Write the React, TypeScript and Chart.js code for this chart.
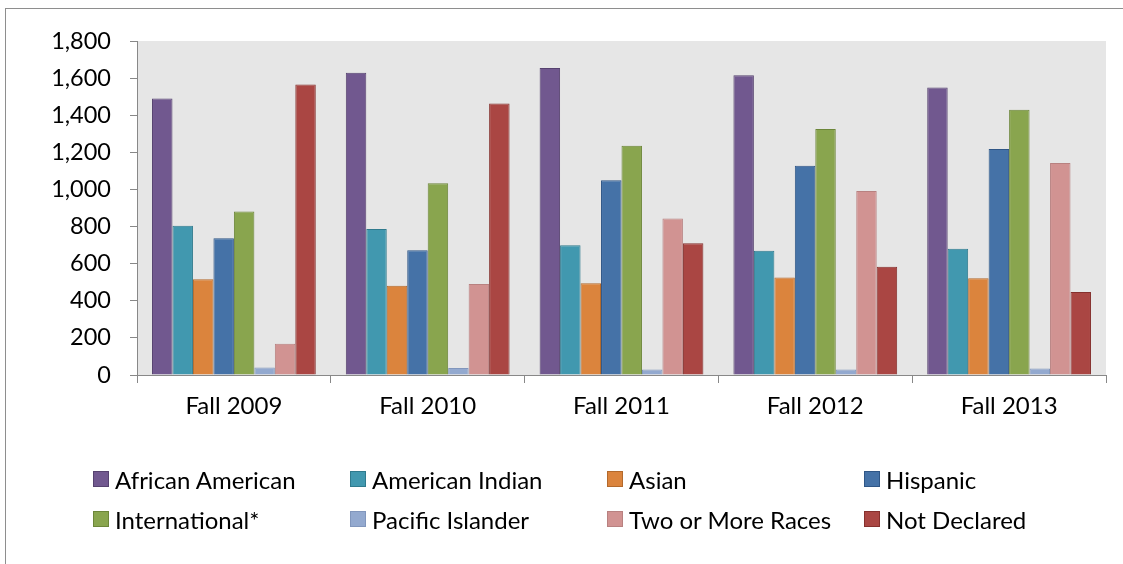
import React, { useEffect, useRef } from "react";
import { Chart, registerables } from "chart.js";

Chart.register(...registerables);

const categories = ["Fall 2009", "Fall 2010", "Fall 2011", "Fall 2012", "Fall 2013"];

const seriesNames = [
  "African American",
  "American Indian",
  "Asian",
  "Hispanic",
  "International*",
  "Pacific Islander",
  "Two or More Races",
  "Not Declared",
];

const africanAmerican = [1490, 1629, 1654, 1616, 1550];
const americanIndian = [805, 787, 699, 669, 681];
const asian = [516, 481, 494, 526, 521];
const hispanic = [737, 672, 1049, 1128, 1218];
const international = [881, 1034, 1236, 1326, 1429];
const pacificIslander = [40, 38, 29, 29, 35];
const twoOrMoreRaces = [168, 490, 843, 991, 1143];
const notDeclared = [1566, 1463, 710, 584, 447];

const seriesValues = [
  africanAmerican,
  americanIndian,
  asian,
  hispanic,
  international,
  pacificIslander,
  twoOrMoreRaces,
  notDeclared,
];

const fillColors = ["#71588F", "#4198AF", "#DB843D", "#4572A7", "#89A54E", "#93A9CF", "#D19392", "#AA4643"];
const borderColors = ["#56426F", "#2F7A8D", "#B3692C", "#2F5686", "#6C8639", "#8196BC", "#B88180", "#85302D"];

const yTicks = [0, 200, 400, 600, 800, 1000, 1200, 1400, 1600, 1800];

const FONT = "Lato, 'Open Sans', sans-serif";
const AXIS = "#888888";

const plotBg = {
  id: "plotBg",
  beforeDraw(chart: any) {
    const { ctx, chartArea } = chart;
    ctx.save();
    ctx.fillStyle = "#E6E6E6";
    ctx.fillRect(chartArea.left, chartArea.top, chartArea.right - chartArea.left, chartArea.bottom - chartArea.top);
    ctx.restore();
  },
};

export default function App() {
  const ref = useRef<HTMLCanvasElement | null>(null);

  useEffect(() => {
    if (!ref.current) return;
    const chart = new Chart(ref.current, {
      type: "bar",
      data: {
        labels: categories,
        datasets: seriesNames.map((name, i) => ({
          label: name,
          data: seriesValues[i],
          backgroundColor: fillColors[i],
          borderColor: borderColors[i],
          borderWidth: 1,
          categoryPercentage: 0.845,
          barPercentage: 1,
        })),
      },
      options: {
        animation: false,
        responsive: false,
        maintainAspectRatio: false,
        layout: { padding: { left: 0, top: 41, right: 17, bottom: 129 } },
        plugins: {
          legend: { display: false },
          tooltip: { enabled: false },
        },
        scales: {
          x: {
            grid: {
              display: true,
              drawOnChartArea: false,
              drawTicks: true,
              tickLength: 8,
              color: AXIS,
              offset: true,
            },
            border: { display: true, color: AXIS, width: 1 },
            ticks: {
              color: "#000",
              font: { family: FONT, size: 24 },
              padding: 9,
              maxRotation: 0,
            },
            afterFit(scale: any) {
              scale.height = 60;
            },
          },
          y: {
            min: 0,
            max: 1800,
            afterBuildTicks(scale: any) {
              scale.ticks = yTicks.map((v) => ({ value: v }));
            },
            grid: {
              display: true,
              drawOnChartArea: false,
              drawTicks: true,
              tickLength: 7,
              color: AXIS,
            },
            border: { display: true, color: AXIS, width: 1 },
            ticks: {
              color: "#000",
              font: { family: FONT, size: 23.5 },
              padding: 19,
              callback: (v: any) => Number(v).toLocaleString("en-US"),
            },
            afterFit(scale: any) {
              scale.width = 137;
            },
          },
        },
      },
      plugins: [plotBg],
    });
    return () => chart.destroy();
  }, []);

  const colX = [93, 350, 607, 864];
  const rowY = [480, 520];

  return (
    <div
      style={{
        position: "fixed",
        left: 0,
        top: 0,
        width: 1123,
        height: 564,
        background: "#fff",
        overflow: "hidden",
        fontFamily: FONT,
      }}
    >
      <div
        style={{
          position: "absolute",
          left: 5,
          top: 8,
          width: 1200,
          height: 700,
          border: "1px solid #8e8e8e",
          boxSizing: "border-box",
        }}
      />
      <canvas ref={ref} width={1123} height={564} style={{ position: "absolute", left: 0, top: 0, width: 1123, height: 564 }} />
      {seriesNames.map((name, i) => {
        const col = i % 4;
        const row = Math.floor(i / 4);
        return (
          <div
            key={name}
            style={{
              position: "absolute",
              left: colX[col],
              top: rowY[row] - 16,
              height: 30,
              display: "flex",
              alignItems: "center",
              whiteSpace: "nowrap",
              fontSize: 24,
              color: "#000",
            }}
          >
            <span
              style={{
                display: "inline-block",
                width: 16,
                height: 16,
                boxSizing: "border-box",
                background: fillColors[i],
                border: `1.5px solid ${borderColors[i]}`,
                marginRight: 6,
              }}
            />
            <span>{name}</span>
          </div>
        );
      })}
    </div>
  );
}
